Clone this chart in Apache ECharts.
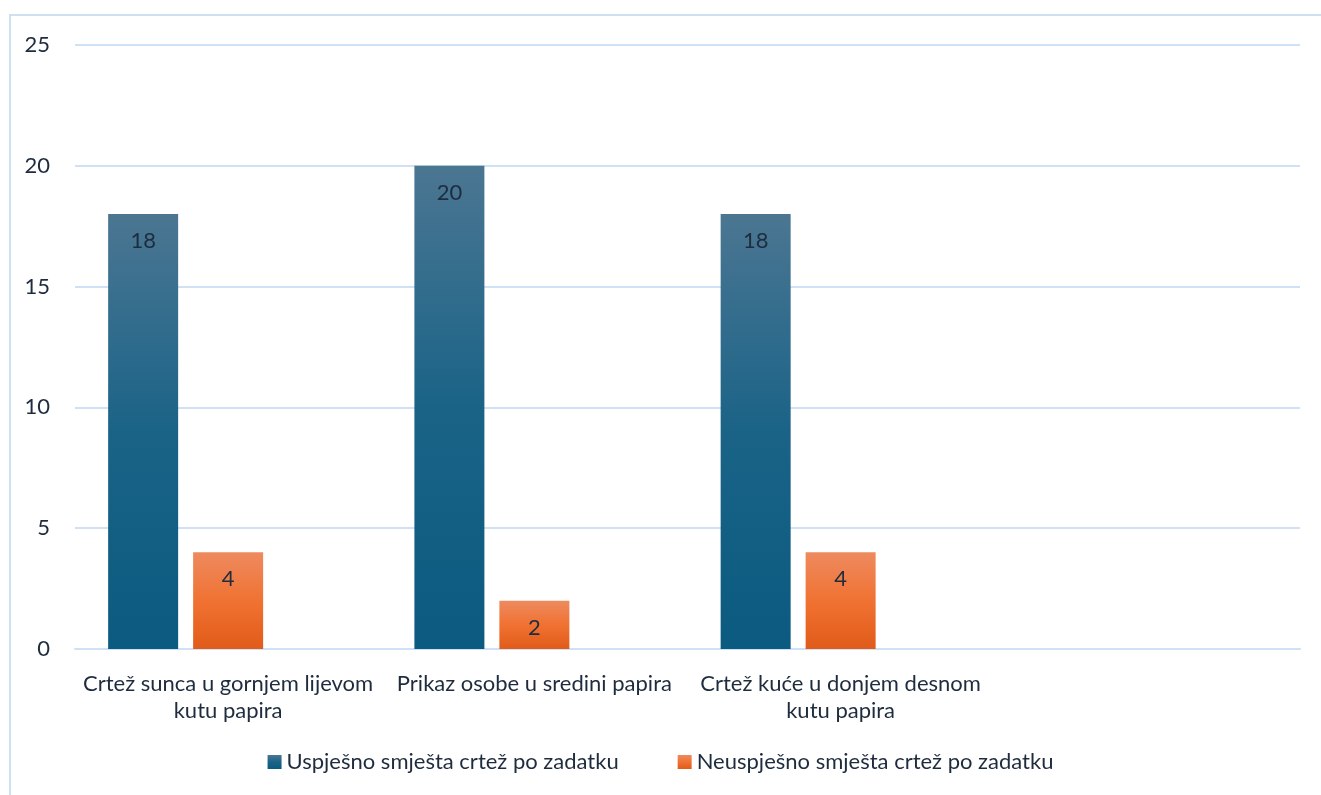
<!DOCTYPE html>
<html>
<head>
<meta charset="utf-8">
<script src="https://cdn.jsdelivr.net/npm/echarts@6/dist/echarts.min.js"></script>
<style>
html,body{margin:0;padding:0;background:#fff;}
#c{width:1321px;height:795px;}
</style>
</head>
<body>
<div id="c"></div>
<script>
var categories = ['Crtež sunca u gornjem lijevom\nkutu papira', 'Prikaz osobe u sredini papira', 'Crtež kuće u donjem desnom\nkutu papira', ''];
var seriesNames = ['Uspješno smješta crtež po zadatku', 'Neuspješno smješta crtež po zadatku'];
var successValues = [18, 20, 18, null];
var failValues = [4, 2, 4, null];
var emptyThird = [null, null, null, null];
var yTicks = [0, 5, 10, 15, 20, 25];

var textColor = '#1e2c3e';
var font = 'Lato';
var fs = 22;
var chart = echarts.init(document.getElementById('c'));
function grad(top, mid, bot) {
  return new echarts.graphic.LinearGradient(0, 0, 0, 1, [
    {offset: 0, color: top}, {offset: 0.5, color: mid}, {offset: 1, color: bot}
  ]);
}
var lbl = {show: true, position: 'insideTop', distance: 16, color: textColor, fontFamily: font, fontSize: fs};
chart.setOption({
  animation: false,
  graphic: [{
    type: 'rect', silent: true, z: -10,
    shape: {x: 10, y: 15, width: 1400, height: 900},
    style: {fill: 'none', stroke: '#cfe0f3', lineWidth: 2}
  }],
  grid: {left: 75, right: 21, top: 45, bottom: 146, containLabel: false},
  legend: {
    data: seriesNames,
    bottom: 17, left: 'center',
    itemWidth: 14, itemHeight: 14, itemGap: 59,
    icon: 'rect',
    textStyle: {color: textColor, fontFamily: font, fontSize: fs, padding: [0, 0, 0, 0]}
  },
  xAxis: {
    type: 'category',
    data: categories,
    axisLine: {show: true, lineStyle: {color: '#d0e0f5', width: 2}},
    axisTick: {show: false},
    axisLabel: {color: textColor, fontFamily: font, fontSize: fs, lineHeight: 27, margin: 21, interval: 0}
  },
  yAxis: {
    type: 'value',
    min: yTicks[0], max: yTicks[yTicks.length - 1], interval: yTicks[1] - yTicks[0],
    axisLine: {show: false},
    axisTick: {show: false},
    splitLine: {lineStyle: {color: '#d0e0f5', width: 2}},
    axisLabel: {color: textColor, fontFamily: font, fontSize: fs, margin: 25}
  },
  series: [
    {
      name: seriesNames[0], type: 'bar', data: successValues,
      barWidth: 70, barGap: '21.4%',
      itemStyle: {color: grad('#4b7692', '#1a6387', '#0b5a80')},
      label: lbl
    },
    {
      name: seriesNames[1], type: 'bar', data: failValues,
      barWidth: 70, barGap: '21.4%',
      itemStyle: {color: grad('#ee8a5f', '#f07232', '#e15b19')},
      label: lbl
    },
    {
      name: '', type: 'bar', data: emptyThird,
      barWidth: 70, barGap: '21.4%'
    }
  ]
});
</script>
</body>
</html>
